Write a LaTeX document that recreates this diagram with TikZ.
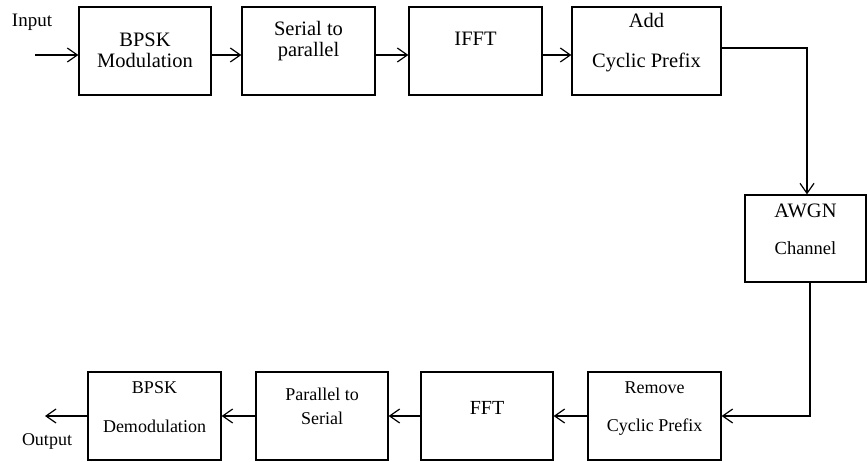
\documentclass[tikz,border=0pt]{standalone}
\usepackage{fontspec}
\setmainfont{Liberation Serif}
\usetikzlibrary{arrows.meta}
\begin{document}
\begin{tikzpicture}[x=1pt,y=-1pt,
  blk/.style={draw,line width=1.3pt,minimum width=132pt,minimum height=88pt,inner sep=0pt},
  lbl/.style={anchor=base,inner sep=0pt,font=\fontsize{18}{20}\selectfont},
  big/.style={lbl,font=\fontsize{20.5}{22}\selectfont},
  arr/.style={line width=1.2pt,-{Straight Barb[length=10pt,width=14pt,line width=1.2pt]}}]
\useasboundingbox (0,0) rectangle (867,462);

% transmitter chain
\node[blk] (b1) at (145,51) {};
\node[blk,minimum width=133pt] (b2) at (308.5,51) {};
\node[blk,minimum width=133pt] (b3) at (475.5,51) {};
\node[blk,minimum width=149pt] (b4) at (646.5,51) {};
% channel
\node[blk,minimum width=121pt,minimum height=87pt] (b5) at (805.5,238.5) {};
% receiver chain
\node[blk,minimum width=133pt] (b6) at (654.5,416) {};
\node[blk] (b7) at (487,416) {};
\node[blk] (b8) at (322,416) {};
\node[blk,minimum width=133pt] (b9) at (154.5,416) {};

% labels
\node[big] (t1a) at (145,47) {BPSK};
\node[big] (t1b) at (145,68) {Modulation};
\node[big] (t2a) at (308.5,36) {Serial to};
\node[big] (t2b) at (308.5,57) {parallel};
\node[big] (t3) at (475.5,46) {IFFT};
\node[big] (t4a) at (646.5,28) {Add};
\node[big] (t4b) at (646.5,68) {Cyclic Prefix};
\node[big] (t5a) at (805.5,218) {AWGN};
\node[lbl,font=\fontsize{18.5}{20}\selectfont] (t5b) at (805.5,255) {Channel};
\node[lbl] (t6a) at (654.5,393) {Remove};
\node[lbl] (t6b) at (654.5,431) {Cyclic Prefix};
\node[lbl,font=\fontsize{20}{22}\selectfont] (t7) at (487,414) {FFT};
\node[lbl] (t8a) at (322,400) {Parallel to};
\node[lbl] (t8b) at (322,424) {Serial};
\node[lbl] (t9a) at (154.5,393) {BPSK};
\node[lbl] (t9b) at (154.5,432) {Demodulation};
\node[lbl,font=\fontsize{19}{21}\selectfont] (tin) at (32,27) {Input};
\node[lbl] (tout) at (47,445) {Output};

% free ends of the input and output connectors
\coordinate (in) at (35,55);
\coordinate (out) at (45,416);

% connectors
\draw[arr] (in) -- ([yshift=-4pt]b1.west);
\draw[arr] ([yshift=-4pt]b1.east) -- ([yshift=-4pt]b2.west);
\draw[arr] ([yshift=-4pt]b2.east) -- ([yshift=-4pt]b3.west);
\draw[arr] ([yshift=-4pt]b3.east) -- ([yshift=-4pt]b4.west);
\draw[arr] ([yshift=3pt]b4.east) -| ([xshift=1.5pt]b5.north);
\draw[arr] ([xshift=4.5pt]b5.south) |- (b6.east);
\draw[arr] (b6.west) -- (b7.east);
\draw[arr] (b7.west) -- (b8.east);
\draw[arr] (b8.west) -- (b9.east);
\draw[arr] (b9.west) -- (out);
\end{tikzpicture}
\end{document}
